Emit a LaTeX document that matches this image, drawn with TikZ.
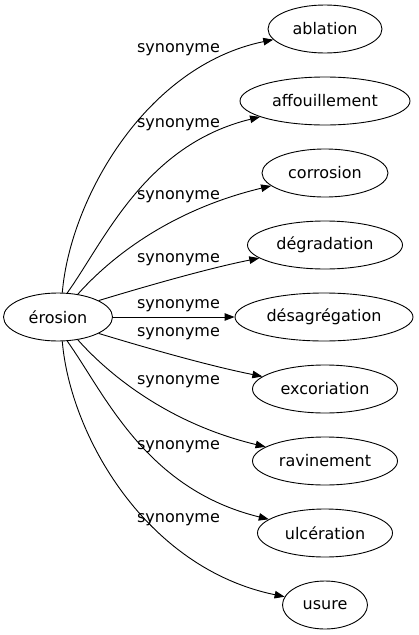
\documentclass[tikz,border=0pt]{standalone}
\usepackage{fontspec}
\setmainfont{DejaVu Sans}
\usetikzlibrary{shapes.geometric,arrows.meta}
\tikzset{
  term/.style={ellipse,draw,line width=0.9pt,inner sep=0pt,minimum height=48pt,font=\fontsize{16}{19}\selectfont},
  lbl/.style={inner sep=0pt,font=\fontsize{16}{19}\selectfont},
  syn/.style={line width=0.9pt,-{Triangle[length=10pt,width=7.5pt]}}
}
\begin{document}
\begin{tikzpicture}[x=1pt,y=-1pt]
\useasboundingbox (0,0) rectangle (418,635);
\node[term,minimum width=109pt] (e) at (58,317) {érosion};
\node[term,minimum width=114pt] (abl) at (325,29) {ablation};
\node[term,minimum width=170pt] (aff) at (325,101) {affouillement};
\node[term,minimum width=126pt] (cor) at (325,173) {corrosion};
\node[term,minimum width=155pt] (deg) at (325,245) {dégradation};
\node[term,minimum width=178pt] (des) at (324,317) {désagrégation};
\node[term,minimum width=145pt] (exc) at (325,389) {excoriation};
\node[term,minimum width=145pt] (rav) at (325,461) {ravinement};
\node[term,minimum width=135pt] (ulc) at (325,533) {ulcération};
\node[term,minimum width=85pt] (usu) at (325,605) {usure};

\node[lbl] (l1) at (178.5,50) {synonyme};
\node[lbl] (l2) at (178.5,125) {synonyme};
\node[lbl] (l3) at (178.5,197) {synonyme};
\node[lbl] (l4) at (178.5,260) {synonyme};
\node[lbl] (l5) at (178.5,306) {synonyme};
\node[lbl] (l6) at (178.5,334) {synonyme};
\node[lbl] (l7) at (178.5,382) {synonyme};
\node[lbl] (l8) at (178.5,447) {synonyme};
\node[lbl] (l9) at (178.5,520) {synonyme};

\draw[syn] (e.80) .. controls (70,200) and (145,66) .. (abl);
\draw[syn] (e.69) .. controls (105,240) and (145,145) .. (aff);
\draw[syn] (e.49) .. controls (110,258) and (170,210) .. (cor);
\draw[syn] (e.22) .. controls (150,285) and (210,268) .. (deg);
\draw[syn] (e) -- (des);
\draw[syn] (e.-22) .. controls (150,349) and (210,366) .. (exc);
\draw[syn] (e.-49) .. controls (110,376) and (170,424) .. (rav);
\draw[syn] (e.-69) .. controls (105,394) and (145,489) .. (ulc);
\draw[syn] (e.-80) .. controls (70,434) and (145,568) .. (usu);
\end{tikzpicture}
\end{document}
